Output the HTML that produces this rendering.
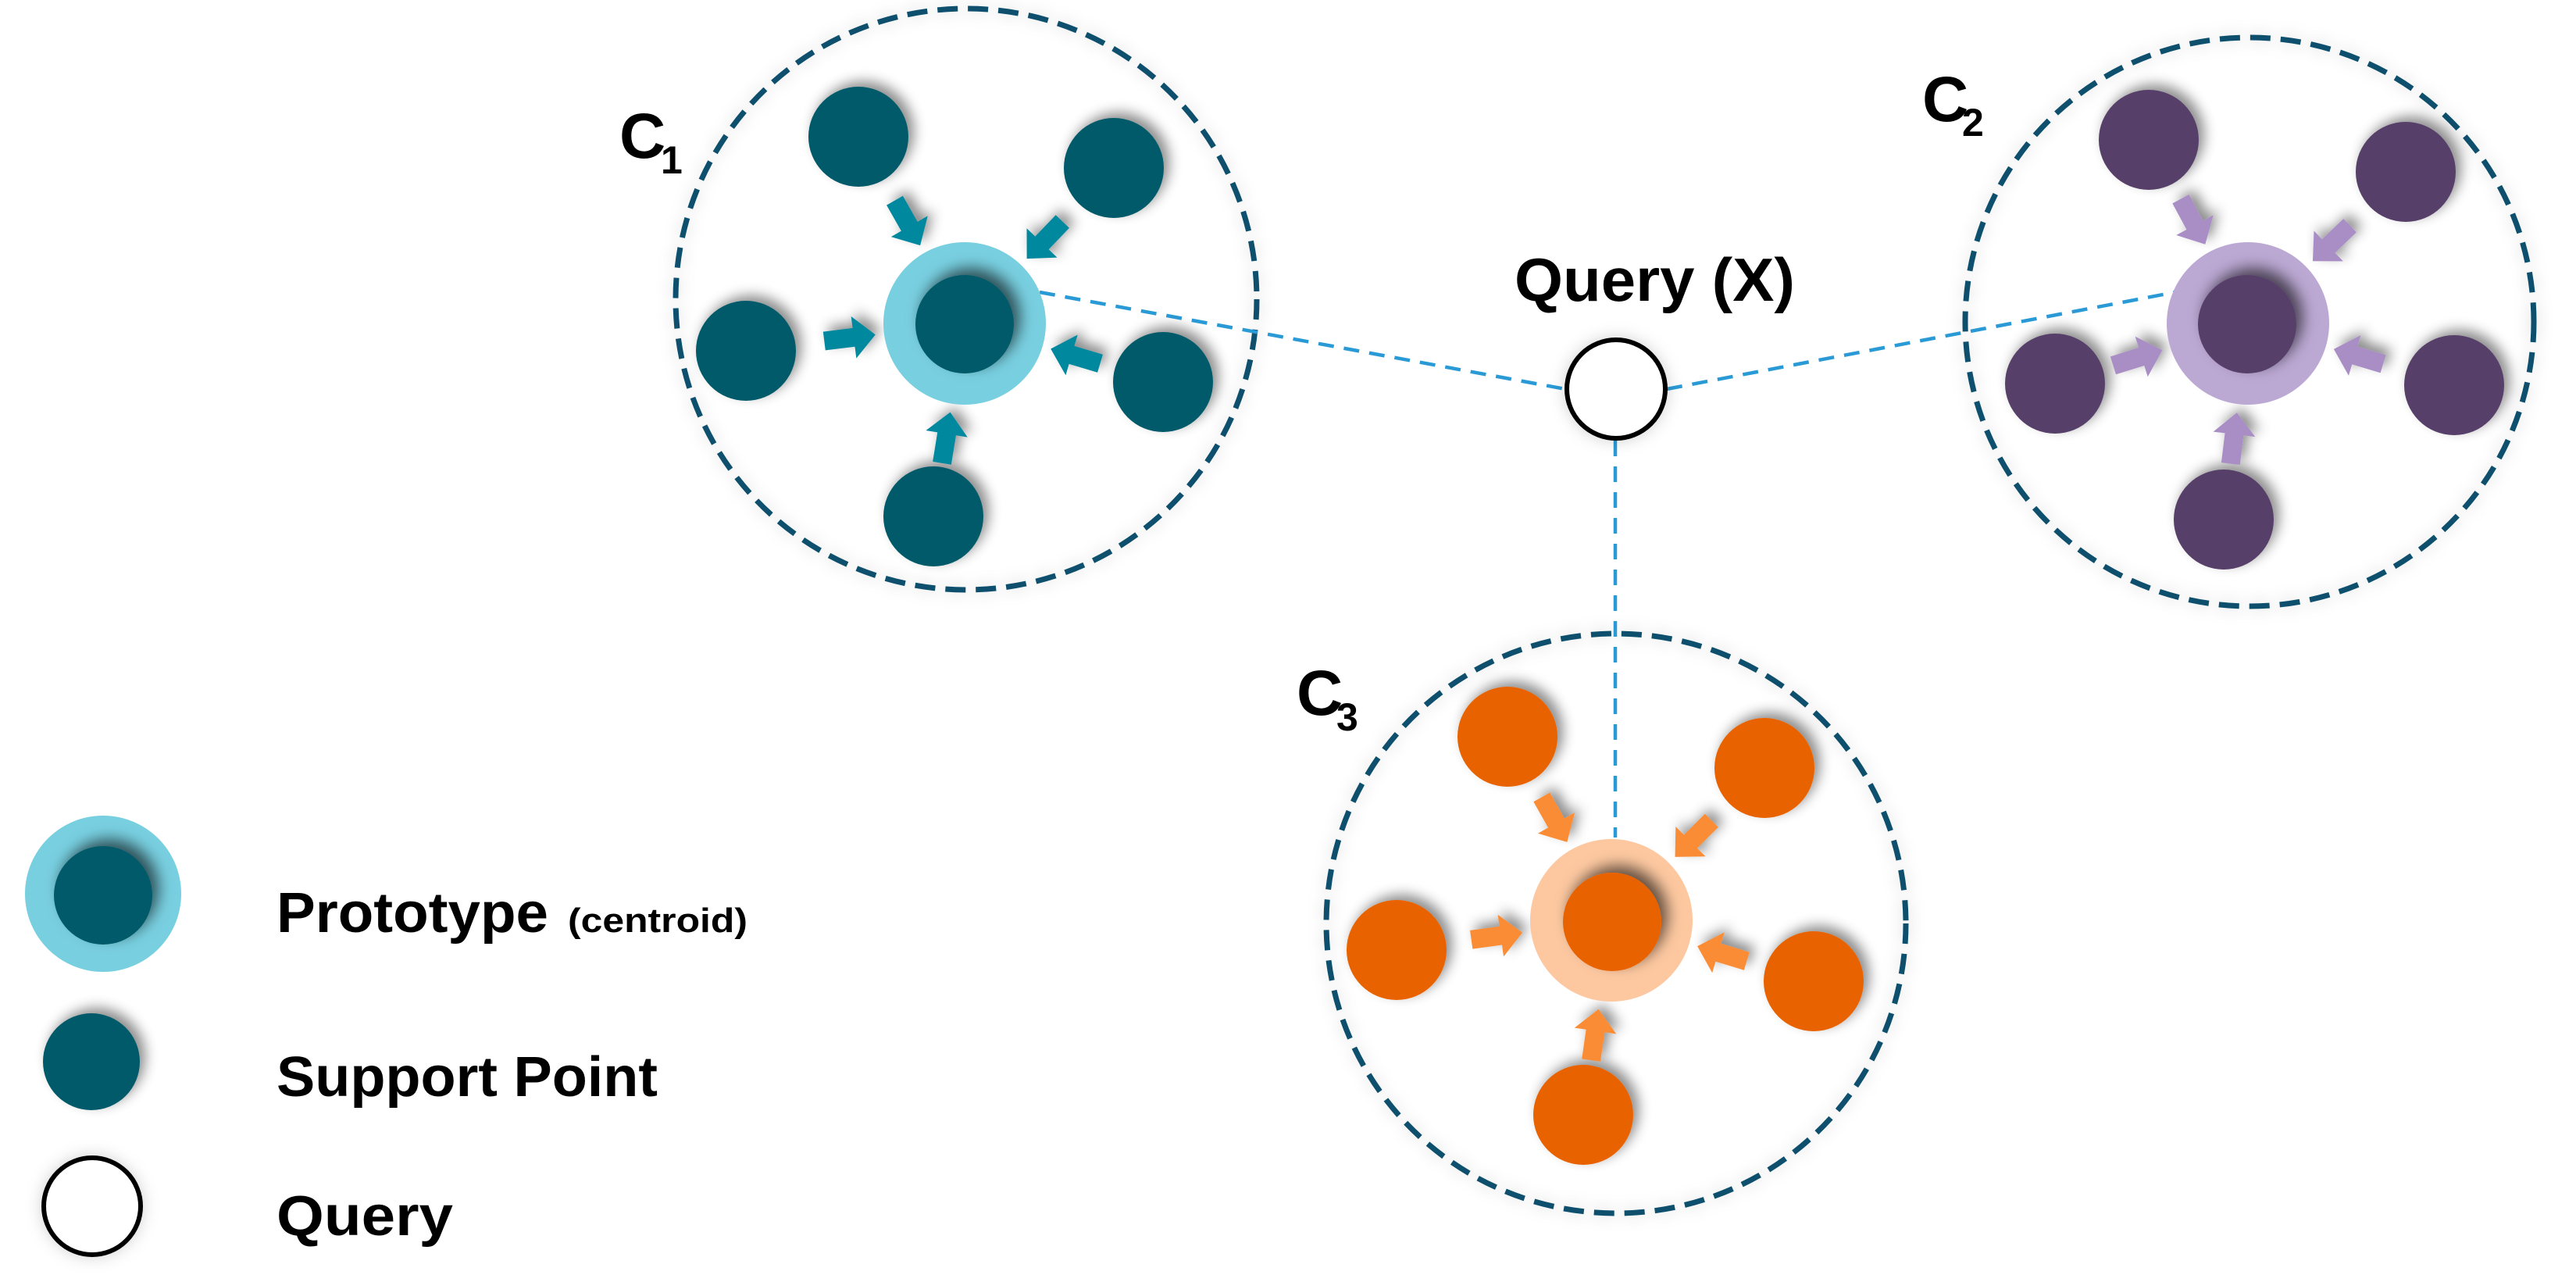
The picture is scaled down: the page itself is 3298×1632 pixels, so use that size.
<!DOCTYPE html>
<html><head><meta charset="utf-8"><style>
html,body{margin:0;padding:0;background:#fff;}
svg{display:block;}
text{font-family:"Liberation Sans",sans-serif;font-weight:bold;fill:#000;}
</style></head><body>
<svg width="3298" height="1632" viewBox="0 0 3298 1632" xmlns="http://www.w3.org/2000/svg">
<defs>
<filter id="sh" x="-50%" y="-50%" width="200%" height="200%"><feDropShadow dx="7" dy="-7" stdDeviation="8" flood-color="#000" flood-opacity="0.45"/></filter>
<filter id="shi" x="-50%" y="-50%" width="200%" height="200%"><feDropShadow dx="8" dy="-9" stdDeviation="9" flood-color="#000" flood-opacity="0.6"/></filter>
<filter id="shc" x="-20%" y="-20%" width="140%" height="140%"><feDropShadow dx="0" dy="0" stdDeviation="10" flood-color="#000" flood-opacity="0.18"/></filter>
<path id="ar" d="M0,-12 L38,-12 L38,-27 L66,0 L38,27 L38,12 L0,12 Z"/>
</defs>

<!-- cluster circles -->
<g fill="none" stroke="#0b4f6c" stroke-width="7" stroke-dasharray="26 13" filter="url(#shc)">
<circle cx="1237" cy="383" r="372"/>
<circle cx="2880" cy="412" r="364"/>
<circle cx="2069" cy="1182" r="371"/>
</g>

<!-- dashed connectors -->
<g stroke="#2a9ad6" stroke-width="4.5" stroke-dasharray="20 13" fill="none">
<line x1="1331" y1="374" x2="2004" y2="498"/>
<line x1="2134" y1="498" x2="2785" y2="374"/>
<line x1="2068" y1="564" x2="2068" y2="1072"/>
</g>

<!-- C1 -->
<g fill="#005a6a" filter="url(#sh)">
<circle cx="1099" cy="175" r="64"/><circle cx="1426" cy="215" r="64"/><circle cx="955" cy="449" r="64"/><circle cx="1489" cy="489" r="64"/><circle cx="1195" cy="661" r="64"/>
</g>
<g fill="#00889e" filter="url(#sh)">
<use href="#ar" transform="translate(1145.5,256.7) rotate(60.4)"/>
<use href="#ar" transform="translate(1360.3,283.5) rotate(133.8)"/>
<use href="#ar" transform="translate(1055.3,436.5) rotate(-7.1)"/>
<use href="#ar" transform="translate(1408.5,465.2) rotate(196.5)"/>
<use href="#ar" transform="translate(1206,592.8) rotate(-80.8)"/>
</g>
<circle cx="1235" cy="414" r="104" fill="#78cfe0"/>
<circle cx="1235" cy="415" r="63" fill="#005a6a" filter="url(#shi)"/>

<!-- C2 -->
<g fill="#573f6a" filter="url(#sh)">
<circle cx="2751" cy="179" r="64"/><circle cx="3080" cy="220" r="64"/><circle cx="2631" cy="491" r="64"/><circle cx="3142" cy="493" r="64"/><circle cx="2847" cy="665" r="64"/>
</g>
<g fill="#a88ec5" filter="url(#sh)">
<use href="#ar" transform="translate(2791.9,254.7) rotate(61.6)"/>
<use href="#ar" transform="translate(3008.6,288.6) rotate(136.2)"/>
<use href="#ar" transform="translate(2705.4,467.8) rotate(-17.3)"/>
<use href="#ar" transform="translate(3051.1,465.8) rotate(196.7)"/>
<use href="#ar" transform="translate(2855.8,593.6) rotate(-83)"/>
</g>
<circle cx="2878" cy="414" r="104" fill="#bba8d3"/>
<circle cx="2877" cy="415" r="63" fill="#573f6a" filter="url(#shi)"/>

<!-- C3 -->
<g fill="#e86400" filter="url(#sh)">
<circle cx="1930" cy="943" r="64"/><circle cx="2259" cy="983" r="64"/><circle cx="1788" cy="1216" r="64"/><circle cx="2322" cy="1256" r="64"/><circle cx="2027" cy="1427" r="64"/>
</g>
<g fill="#f98c34" filter="url(#sh)">
<use href="#ar" transform="translate(1973.8,1020.4) rotate(60.5)"/>
<use href="#ar" transform="translate(2191.3,1050.3) rotate(135.1)"/>
<use href="#ar" transform="translate(1883.7,1202.8) rotate(-7.9)"/>
<use href="#ar" transform="translate(2236.3,1230.2) rotate(196.8)"/>
<use href="#ar" transform="translate(2037.1,1357.1) rotate(-81.8)"/>
</g>
<circle cx="2063" cy="1178" r="104" fill="#fdc8a0"/>
<circle cx="2064" cy="1180" r="63" fill="#e86400" filter="url(#shi)"/>

<!-- query -->
<circle cx="2069" cy="498" r="63" fill="#fff" stroke="#000" stroke-width="6" filter="url(#shc)"/>
<text x="1939" y="385" font-size="78" textLength="359" lengthAdjust="spacingAndGlyphs">Query (X)</text>

<!-- labels -->
<text x="793" y="202" font-size="82">C</text><text x="846" y="222" font-size="50">1</text>
<text x="2461" y="155" font-size="82">C</text><text x="2512" y="174" font-size="50">2</text>
<text x="1660" y="915" font-size="82">C</text><text x="1711" y="935" font-size="50">3</text>

<!-- legend -->
<circle cx="132" cy="1144" r="100" fill="#78cfe0"/>
<circle cx="132" cy="1146" r="63" fill="#005a6a" filter="url(#shi)"/>
<circle cx="117" cy="1359" r="62" fill="#005a6a" filter="url(#sh)"/>
<circle cx="118" cy="1544" r="62" fill="#fff" stroke="#000" stroke-width="6" filter="url(#shc)"/>
<text x="354" y="1193" font-size="72" textLength="348" lengthAdjust="spacingAndGlyphs">Prototype</text>
<text x="727" y="1193" font-size="44" textLength="230" lengthAdjust="spacingAndGlyphs">(centroid)</text>
<text x="354" y="1403" font-size="72" textLength="488" lengthAdjust="spacingAndGlyphs">Support Point</text>
<text x="354" y="1581" font-size="72" textLength="226" lengthAdjust="spacingAndGlyphs">Query</text>
</svg>
</body></html>
